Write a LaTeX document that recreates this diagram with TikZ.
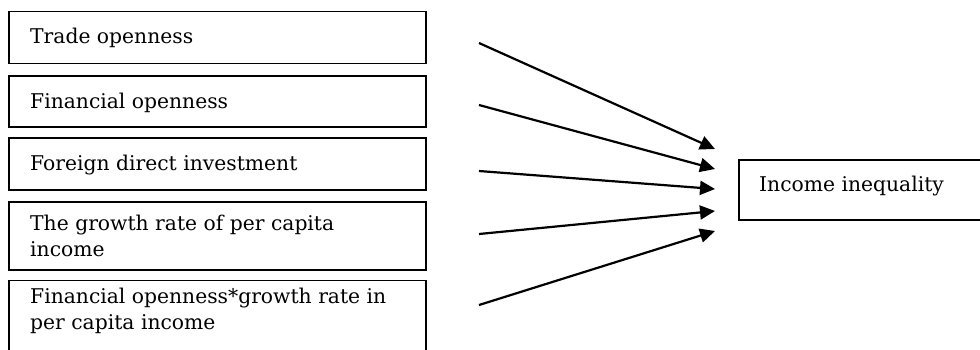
\documentclass[tikz,border=0pt]{standalone}
\usepackage{fontspec}
\setmainfont{DejaVu Serif}
\usetikzlibrary{arrows.meta}
\newcommand{\twolines}[2]{\vtop{\hbox{#1}\hbox{#2}}}
\begin{document}
\begin{tikzpicture}[x=1pt,y=-1pt,
  box/.style={draw, line width=1.9pt, anchor=north west, inner sep=0pt},
  lbl/.style={anchor=base west, inner sep=0pt, font=\fontsize{20.3}{26.5}\selectfont},
  arr/.style={line width=2.2pt, -{Triangle[length=15pt,width=14pt]}}]
\useasboundingbox (0,0) rectangle (980,349);
% left boxes
\node[box, minimum width=417pt, minimum height=52pt] (b1) at (8,10.5) {};
\node[box, minimum width=417pt, minimum height=51pt] (b2) at (8,75) {};
\node[box, minimum width=417pt, minimum height=52pt] (b3) at (8,137) {};
\node[box, minimum width=417pt, minimum height=68pt] (b4) at (8,201) {};
\node[box, minimum width=417pt, minimum height=85pt] (b5) at (8,279.5) {};
% right box
\node[box, minimum width=250pt, minimum height=60pt] (out) at (738,159) {};
% labels
\node[lbl] (l1) at (30,43) {Trade openness};
\node[lbl] (l2) at (30,108) {Financial openness};
\node[lbl] (l3) at (30,170) {Foreign direct investment};
\node[lbl] (l4) at (30,230) {\twolines{The growth rate of per capita}{income}};
\node[lbl] (l5) at (30,303) {\twolines{Financial openness*growth rate in}{per capita income}};
\node[lbl] (lo) at (759,191) {Income inequality};
% arrow ends
\coordinate (s1) at (479,43);  \coordinate (t1) at (715,149);
\coordinate (s2) at (479,105); \coordinate (t2) at (715,169);
\coordinate (s3) at (479,171); \coordinate (t3) at (715,189);
\coordinate (s4) at (479,234); \coordinate (t4) at (715,211);
\coordinate (s5) at (479,305); \coordinate (t5) at (715,231);
\foreach \i in {1,...,5} \draw[arr] (s\i) -- (t\i);
\end{tikzpicture}
\end{document}
